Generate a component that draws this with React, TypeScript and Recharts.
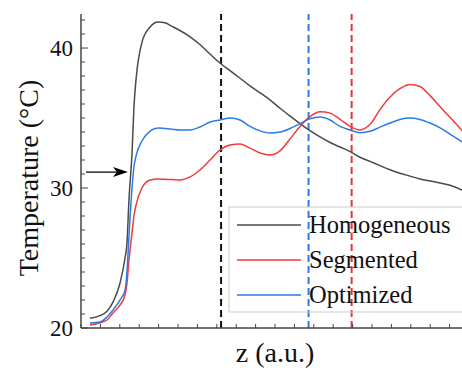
import { LineChart, Line, XAxis, YAxis, ReferenceLine, ReferenceDot } from "recharts";

// position along the channel (a.u.) and temperatures (°C)
const z = [
  0.46, 0.98, 1.34, 1.65, 2.01, 2.27, 2.37, 2.47, 2.63, 2.73, 2.84, 3.14, 3.56, 3.97, 4.33, 4.69,
  5.1, 5.62, 6.13, 6.65, 7.16, 7.68, 8.2, 8.71, 9.23, 9.74, 10.26, 10.77, 11.29, 11.8, 12.32, 12.84,
  13.35, 13.87, 14.38, 14.9, 15.41, 15.93, 16.44, 16.96, 17.47, 17.99, 18.51, 19.02, 19.64, 20.0,
];

const homogeneous = [
  20.69, 20.88, 21.2, 21.85, 23.2, 25.0, 26.07, 29.1, 32.5, 35.8, 37.8, 40.4, 41.5, 41.86, 41.8, 41.55,
  41.25, 40.8, 40.25, 39.57, 38.93, 38.38, 37.84, 37.3, 36.8, 36.29, 35.7, 35.15, 34.6, 34.1, 33.65, 33.25,
  32.93, 32.6, 32.2, 31.9, 31.6, 31.3, 31.05, 30.85, 30.65, 30.5, 30.36, 30.2, 29.86, 29.6,
];

const segmented = [
  20.21, 20.38, 20.57, 21.07, 21.64, 22.36, 23.2, 24.8, 26.8, 28.0, 28.8, 30.0, 30.57, 30.64, 30.62, 30.6,
  30.57, 30.79, 31.29, 32.0, 32.71, 33.07, 33.14, 32.85, 32.5, 32.36, 32.65, 33.5, 34.4, 35.1, 35.45, 35.35,
  34.9, 34.4, 34.15, 34.55, 35.6, 36.5, 37.1, 37.4, 37.25, 36.6, 35.8, 35.05, 34.1, 33.5,
];

const optimized = [
  20.36, 20.43, 20.79, 21.29, 22.0, 22.71, 24.0, 26.5, 30.0, 31.5, 32.3, 33.36, 34.07, 34.29, 34.25, 34.2,
  34.14, 34.15, 34.36, 34.71, 34.86, 35.0, 34.86, 34.4, 34.08, 33.93, 34.0, 34.25, 34.6, 34.95, 35.07, 34.86,
  34.4, 34.15, 33.95, 34.05, 34.35, 34.64, 34.9, 35.0, 34.9, 34.64, 34.3, 33.85, 33.29, 32.9,
];

const yTicks = [20, 21, 22, 23, 24, 25, 26, 27, 28, 29, 30, 31, 32, 33, 34, 35, 36, 37, 38, 39, 40, 41, 42];
const zTicks = [0, 1, 2, 3, 4, 5, 6, 7, 8, 9, 10, 11, 12, 13, 14, 15, 16, 17, 18, 19, 20];

// dashed markers
const markers = [
  { z: 7.22, color: "#111111" },
  { z: 11.73, color: "#2b7be5" },
  { z: 13.95, color: "#e8323a" },
];

const series = [
  { key: "homogeneous", name: "Homogeneous", color: "#4a4a4a" },
  { key: "segmented", name: "Segmented", color: "#f03a3d" },
  { key: "optimized", name: "Optimized", color: "#2b7be5" },
];

const arrowAt = { z: 2.42, t: 31.14 };

const data = z.map((v, i) => ({
  z: v,
  homogeneous: homogeneous[i],
  segmented: segmented[i],
  optimized: optimized[i],
}));

const SERIF = "Liberation Serif";
const AXIS = "#444";

const YTick = (props: any) => {
  const { x, y, payload } = props;
  const ax = x + 8;
  const major = payload.value % 10 === 0;
  return (
    <g>
      <line x1={ax} x2={ax + (major ? 7 : 4)} y1={y} y2={y} stroke={AXIS} strokeWidth={1} />
      {major && (
        <text x={x} y={y} textAnchor="end" dominantBaseline="central" fontFamily={SERIF} fontSize={23} fill="#111">
          {payload.value}
        </text>
      )}
    </g>
  );
};

const BottomTick = (props: any) => {
  const { x, y } = props;
  return <line x1={x} x2={x} y1={y} y2={y - 4} stroke={AXIS} strokeWidth={1} />;
};

const TopTick = (props: any) => {
  const { x, y } = props;
  return <line x1={x} x2={x} y1={y} y2={y + 4} stroke={AXIS} strokeWidth={1} />;
};

const Arrow = (props: any) => {
  const { cx, cy } = props;
  return (
    <g>
      <line x1={cx - 42} x2={cx - 10} y1={cy} y2={cy} stroke="#000" strokeWidth={1.3} />
      <path d={`M ${cx} ${cy} L ${cx - 15} ${cy - 5} L ${cx - 11} ${cy} L ${cx - 15} ${cy + 5} Z`} fill="#000" />
    </g>
  );
};

const LegendBox = () => (
  <svg width={240} height={110} style={{ position: "absolute", left: 228, top: 206 }}>
    <rect x={1} y={1} width={260} height={105} fill="none" stroke="#cccccc" strokeWidth={1} />
    {series.map((s, i) => (
      <g key={s.key}>
        <line x1={9} x2={73} y1={19 + i * 35} y2={19 + i * 35} stroke={s.color} strokeWidth={1.5} />
        <text x={81} y={27 + i * 35} fontFamily={SERIF} fontSize={24.5} fill="#111">
          {s.name}
        </text>
      </g>
    ))}
  </svg>
);

export default function App() {
  return (
    <div style={{ position: "fixed", left: 0, top: 0, width: 462, height: 368, overflow: "hidden", background: "#fff" }}>
      <LineChart width={480} height={368} data={data} margin={{ top: 14, right: 11, bottom: 0, left: 0 }}>
        <XAxis
          dataKey="z"
          type="number"
          domain={[0, 20]}
          ticks={zTicks}
          interval={0}
          allowDataOverflow
          height={40}
          tickSize={0}
          tickMargin={0}
          tickLine={false}
          tick={<BottomTick />}
          axisLine={{ stroke: AXIS, strokeWidth: 1.5 }}
          label={(p: any) => (
            <text
              x={p.viewBox.x + p.viewBox.width / 2}
              y={p.viewBox.y + 34}
              textAnchor="middle"
              fontFamily={SERIF}
              fontSize={28}
              fill="#111"
            >
              z (a.u.)
            </text>
          )}
        />
        <XAxis
          xAxisId="top"
          orientation="top"
          dataKey="z"
          type="number"
          domain={[0, 20]}
          ticks={zTicks}
          interval={0}
          height={0}
          tickSize={0}
          tickMargin={0}
          tickLine={false}
          tick={<TopTick />}
          axisLine={{ stroke: "#666", strokeWidth: 1.5 }}
        />
        <YAxis
          type="number"
          domain={[20, 42.43]}
          ticks={yTicks}
          interval={0}
          allowDataOverflow
          width={81}
          tickSize={0}
          tickMargin={8}
          tickLine={false}
          tick={<YTick />}
          axisLine={{ stroke: AXIS, strokeWidth: 1.5 }}
          label={(p: any) => {
            const cx = p.viewBox.x + 28;
            const cy = p.viewBox.y + p.viewBox.height / 2 + 7;
            return (
              <text
                x={cx}
                y={cy}
                transform={`rotate(-90 ${cx} ${cy})`}
                textAnchor="middle"
                dominantBaseline="central"
                fontFamily={SERIF}
                fontSize={28}
                fill="#111"
              >
                Temperature (°C)
              </text>
            );
          }}
        />
        {markers.map((m) => (
          <ReferenceLine key={m.z} x={m.z} stroke={m.color} strokeWidth={2} strokeDasharray="7 4" />
        ))}
        {series.map((s) => (
          <Line
            key={s.key}
            dataKey={s.key}
            name={s.name}
            stroke={s.color}
            strokeWidth={1.5}
            dot={false}
            type="monotone"
            isAnimationActive={false}
          />
        ))}
        <ReferenceDot x={arrowAt.z} y={arrowAt.t} shape={<Arrow />} />
      </LineChart>
      <LegendBox />
    </div>
  );
}
